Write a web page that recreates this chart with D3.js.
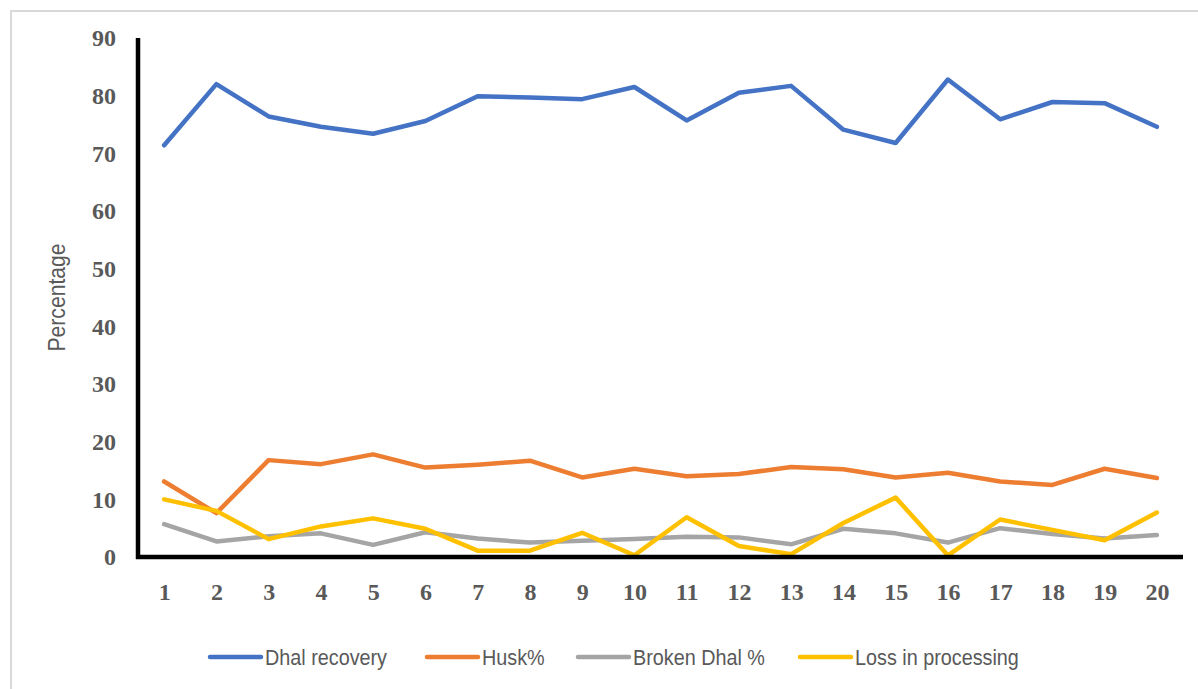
<!DOCTYPE html>
<html>
<head>
<meta charset="utf-8">
<script src="https://cdn.jsdelivr.net/npm/d3@7"></script>
<style>
  html, body { margin: 0; padding: 0; background: #fff; }
  svg { display: block; }
</style>
</head>
<body>
<svg id="chart" width="1198" height="689"></svg>
<script>
const categories = ["1","2","3","4","5","6","7","8","9","10","11","12","13","14","15","16","17","18","19","20"];
const dhalRecovery = [71.4, 82.0, 76.4, 74.6, 73.4, 75.6, 79.9, 79.7, 79.4, 81.5, 75.7, 80.5, 81.7, 74.1, 71.8, 82.8, 75.9, 78.9, 78.7, 74.6];
const husk = [13.1, 7.6, 16.8, 16.1, 17.8, 15.5, 16.0, 16.7, 13.8, 15.3, 14.0, 14.4, 15.6, 15.2, 13.8, 14.6, 13.1, 12.5, 15.3, 13.7];
const brokenDhal = [5.7, 2.7, 3.6, 4.1, 2.1, 4.3, 3.2, 2.5, 2.8, 3.1, 3.5, 3.4, 2.2, 4.9, 4.1, 2.5, 5.0, 4.0, 3.2, 3.8];
const lossProcessing = [10.0, 8.0, 3.1, 5.3, 6.7, 4.9, 1.1, 1.1, 4.2, 0.3, 6.9, 1.9, 0.5, 5.9, 10.3, 0.3, 6.5, 4.7, 2.9, 7.7];
const yTicks = [0, 10, 20, 30, 40, 50, 60, 70, 80, 90];
const seriesNames = ["Dhal recovery", "Husk%", "Broken Dhal %", "Loss in processing"];
const seriesColors = ["#4472C4", "#ED7D31", "#A5A5A5", "#FFC000"];
const seriesValues = [dhalRecovery, husk, brokenDhal, lossProcessing];

const svg = d3.select("#chart");

// outer chart border
svg.append("rect")
  .attr("x", 11).attr("y", 11)
  .attr("width", 1198).attr("height", 700)
  .attr("fill", "none").attr("stroke", "#d9d9d9").attr("stroke-width", 2);

const pLeft = 138, pRight = 1183, pTop = 38, pBottom = 557;

const x = d3.scalePoint().domain(categories).range([pLeft, pRight]).padding(0.5);
const y = d3.scaleLinear().domain([0, 90]).range([pBottom, pTop]);

// y tick labels
const yAxis = d3.axisLeft(y).tickValues(yTicks).tickSize(0).tickPadding(22);
const gy = svg.append("g").attr("transform", `translate(${pLeft},0)`).call(yAxis);
gy.select(".domain").remove();
gy.selectAll("text")
  .attr("font-family", "'Liberation Serif', 'Times New Roman', serif")
  .attr("font-weight", "bold")
  .attr("font-size", 24)
  .attr("fill", "#595959");

// x tick labels
const xAxis = d3.axisBottom(x).tickSize(0).tickPadding(26);
const gx = svg.append("g").attr("transform", `translate(0,${pBottom})`).call(xAxis);
gx.select(".domain").remove();
gx.selectAll("text")
  .attr("font-family", "'Liberation Serif', 'Times New Roman', serif")
  .attr("font-weight", "bold")
  .attr("font-size", 24)
  .attr("fill", "#595959");

// series lines
const line = d3.line().x((d, i) => x(categories[i])).y(d => y(d));
seriesValues.forEach((vals, k) => {
  svg.append("path")
    .datum(vals)
    .attr("d", line)
    .attr("fill", "none")
    .attr("stroke", seriesColors[k])
    .attr("stroke-width", 4.5)
    .attr("stroke-linejoin", "round")
    .attr("stroke-linecap", "round");
});

// axis lines (thick black)
svg.append("line")
  .attr("x1", pLeft).attr("x2", pLeft)
  .attr("y1", pTop).attr("y2", pBottom + 2)
  .attr("stroke", "#000").attr("stroke-width", 4.5);
svg.append("line")
  .attr("x1", pLeft - 2).attr("x2", pRight)
  .attr("y1", pBottom).attr("y2", pBottom)
  .attr("stroke", "#000").attr("stroke-width", 4.5);

// y title (narrow sans look)
svg.append("text")
  .attr("transform", `translate(65,${(pTop + pBottom) / 2}) rotate(-90) scale(0.92,1)`)
  .attr("text-anchor", "middle")
  .attr("font-family", "'Liberation Sans', Arial, sans-serif")
  .attr("font-size", 23)
  .attr("fill", "#595959")
  .text("Percentage");

// legend
const legendX = [210, 427, 578, 800];
const legendY = 657;
seriesNames.forEach((name, k) => {
  const g = svg.append("g").attr("transform", `translate(${legendX[k]},${legendY})`);
  g.append("line")
    .attr("x1", 0).attr("x2", 51)
    .attr("y1", 0).attr("y2", 0)
    .attr("stroke", seriesColors[k]).attr("stroke-width", 4.5)
    .attr("stroke-linecap", "round");
  g.append("text")
    .attr("transform", "translate(55,0) scale(0.9,1)")
    .attr("dy", "0.35em")
    .attr("font-family", "'Liberation Sans', Arial, sans-serif")
    .attr("font-size", 22)
    .attr("fill", "#595959")
    .text(name);
});
</script>
</body>
</html>
